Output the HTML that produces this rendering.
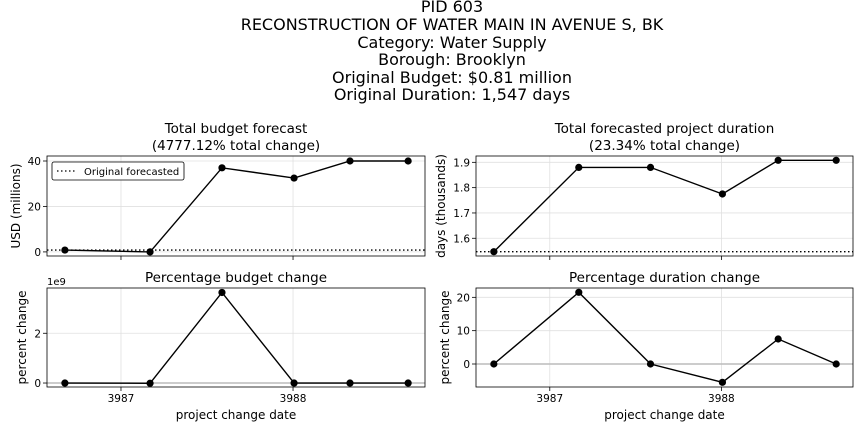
<!DOCTYPE html>
<html><head><meta charset="utf-8"><style>
body{margin:0;background:#fff;width:864px;height:432px;overflow:hidden}
svg{font-family:"DejaVu Sans","Liberation Sans",sans-serif}
</style></head><body>
<svg id="c" width="864" height="432" xmlns="http://www.w3.org/2000/svg">
<g font-size="16" text-anchor="middle" fill="#000">
<text x="452" y="12">PID 603</text>
<text x="452" y="30">RECONSTRUCTION OF WATER MAIN IN AVENUE S, BK</text>
<text x="452" y="48">Category: Water Supply</text>
<text x="452" y="65">Borough: Brooklyn</text>
<text x="452" y="83">Original Budget: $0.81 million</text>
<text x="452" y="100">Original Duration: 1,547 days</text>
</g>
</svg>
<script>
const dates=[3986.674,3987.169,3987.587,3988.006,3988.331,3988.669];
const budget=[0.81,0.0,37.0,32.5,40.0,40.0];
const budgetPct=[0,-0.01e9,3.64e9,0,0,0];
const duration=[1.547,1.880,1.880,1.775,1.908,1.908];
const durationPct=[0,21.5,0,-5.5,7.5,0];
const xTicks=[3987,3988];
const budgetTicks=[0,20,40];
const budgetPctTicks=[0,2e9];
const durationTicks=[1.6,1.7,1.8,1.9];
const durationPctTicks=[0,10,20];
const origBudget=0.81, origDuration=1.547;

const svg=document.getElementById('c');
const NS='http://www.w3.org/2000/svg';
function mk(t,a,p){const e=document.createElementNS(NS,t);for(const k in a)e.setAttribute(k,a[k]);(p||svg).appendChild(e);return e;}

function panel(o){
  const g=mk('g',{});
  
  
  const X=v=>o.x0+(v-3986.570)/(3988.767-3986.570)*(o.x1-o.x0);
  const Y=v=>o.y1-(v-o.ymin)/(o.ymax-o.ymin)*(o.y1-o.y0);
  xTicks.forEach(t=>{mk('line',{x1:X(t),x2:X(t),y1:o.y0,y2:o.y1,stroke:'#e0e0e0','stroke-width':0.8},g);
    mk('line',{x1:X(t),x2:X(t),y1:o.y1,y2:o.y1+4,stroke:'#000','stroke-width':0.8},g);
    if(o.xlabels){const tx=mk('text',{x:X(t),y:o.y1+15,'font-size':10.5,'text-anchor':'middle'},g);tx.textContent=t;
      
      }});
  o.ticks.forEach(t=>{mk('line',{x1:o.x0,x2:o.x1,y1:Y(t),y2:Y(t),stroke:'#e0e0e0','stroke-width':0.8},g);
    mk('line',{x1:o.x0-4,x2:o.x0,y1:Y(t),y2:Y(t),stroke:'#000','stroke-width':0.8},g);
    const tx=mk('text',{x:o.x0-6,y:Y(t)+4,'font-size':10.5,'text-anchor':'end'},g);tx.textContent=o.fmt(t);
    
    });
  if(o.zero) mk('line',{x1:o.x0,x2:o.x1,y1:Y(0),y2:Y(0),stroke:'#bbb','stroke-width':1.5},g);
  if(o.ref!==undefined){const l=mk('line',{x1:o.x0,x2:o.x1,y1:Y(o.ref),y2:Y(o.ref),stroke:'#000','stroke-width':1.3,'stroke-dasharray':'1.5,2.5'},g);
    
    }
  const pts=o.vals.map((v,i)=>X(dates[i])+','+Y(v)).join(' ');
  const pl=mk('polyline',{points:pts,fill:'none',stroke:'#000','stroke-width':1.4},g);
  
  
  o.vals.forEach((v,i)=>{const c=mk('circle',{cx:X(dates[i]),cy:Y(v),r:3.6,fill:'#000'},g);
    
    });
  mk('rect',{x:o.x0,y:o.y0,width:o.x1-o.x0,height:o.y1-o.y0,fill:'none',stroke:'#000','stroke-width':0.8},g);
  const cx=(o.x0+o.x1)/2;
  o.title.forEach((s,i)=>{const t=mk('text',{x:cx,y:o.y0-6-(o.title.length-1-i)*17,'font-size':13.5,'text-anchor':'middle'},g);t.textContent=s;
    
    });
  const yl=mk('text',{x:0,y:0,'font-size':12,'text-anchor':'middle',transform:`translate(${o.ylx},${(o.y0+o.y1)/2}) rotate(-90)`},g);yl.textContent=o.ylabel;
  
  
  if(o.xlabels){const xl=mk('text',{x:cx,y:o.y1+32,'font-size':12,'text-anchor':'middle'},g);xl.textContent='project change date';
    
    }
  if(o.offset){const t=mk('text',{x:o.x0,y:o.y0-3,'font-size':10},g);t.textContent=o.offset;}
  return {g,X,Y};
}
panel({name:'budget-forecast-panel',x0:47,x1:425,y0:156,y1:256,ymin:-1.8,ymax:42.2,ticks:budgetTicks,fmt:t=>t,vals:budget,ref:origBudget,title:['Total budget forecast','(4777.12% total change)'],ylabel:'USD (millions)',ylx:20});
panel({name:'budget-change-panel',x0:47,x1:425,y0:288,y1:387,ymin:-0.16e9,ymax:3.82e9,ticks:budgetPctTicks,fmt:t=>t/1e9,vals:budgetPct,zero:true,title:['Percentage budget change'],ylabel:'percent change',ylx:26,xlabels:true,offset:'1e9'});
panel({name:'duration-forecast-panel',x0:476,x1:853,y0:156,y1:256,ymin:1.530,ymax:1.925,ticks:durationTicks,fmt:t=>t.toFixed(1),vals:duration,ref:origDuration,title:['Total forecasted project duration','(23.34% total change)'],ylabel:'days (thousands)',ylx:445});
panel({name:'duration-change-panel',x0:476,x1:853,y0:288,y1:387,ymin:-6.9,ymax:22.8,ticks:durationPctTicks,fmt:t=>t,vals:durationPct,zero:true,title:['Percentage duration change'],ylabel:'percent change',ylx:449,xlabels:true});
const lg=mk('g',{});


mk('rect',{x:52,y:162,width:132,height:18,rx:2,fill:'#fff',stroke:'#000','stroke-width':0.8},lg);
mk('line',{x1:57,x2:77,y1:171,y2:171,stroke:'#000','stroke-width':1.3,'stroke-dasharray':'1.5,2.5'},lg);
const lt=mk('text',{x:84,y:175,'font-size':10},lg);lt.textContent='Original forecasted';


</script>
</body></html>
